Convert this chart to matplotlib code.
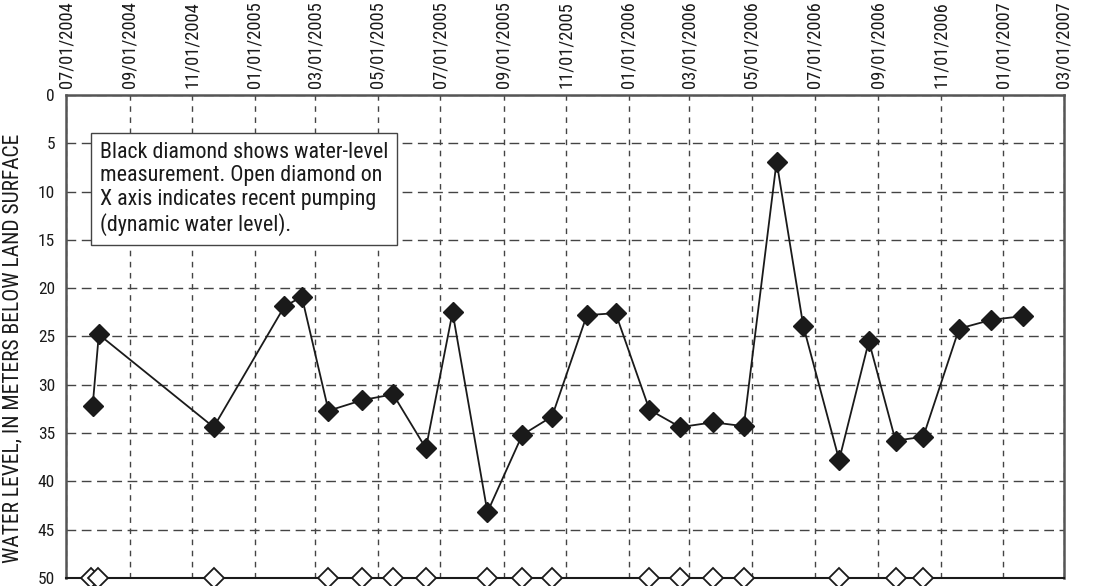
import datetime as dt
import matplotlib
matplotlib.use('Agg')
import matplotlib.pyplot as plt
import matplotlib.dates as mdates

plt.rcParams['font.family'] = ['Liberation Sans Narrow', 'Roboto Condensed', 'Liberation Sans', 'DejaVu Sans']

# water level measurements (meters below land surface)
meas_dates = ['2004-07-27', '2004-08-02', '2004-11-22', '2005-01-30', '2005-02-16',
              '2005-03-14', '2005-04-16', '2005-05-16', '2005-06-17', '2005-07-13',
              '2005-08-16', '2005-09-19', '2005-10-18', '2005-11-21', '2005-12-19',
              '2006-01-21', '2006-02-20', '2006-03-24', '2006-04-23', '2006-05-25',
              '2006-06-20', '2006-07-25', '2006-08-23', '2006-09-18', '2006-10-15',
              '2006-11-19', '2006-12-20', '2007-01-20']
water_level = [32.2, 24.8, 34.4, 21.9, 20.9,
               32.7, 31.6, 31.0, 36.6, 22.5,
               43.2, 35.2, 33.3, 22.8, 22.6,
               32.6, 34.4, 33.9, 34.3, 6.9,
               23.9, 37.8, 25.5, 35.8, 35.4,
               24.2, 23.3, 22.9]

# dates with recent pumping (open diamonds on the x axis)
pump_dates = ['2004-07-25', '2004-08-01', '2004-11-22', '2005-03-14', '2005-04-16',
              '2005-05-16', '2005-06-17', '2005-08-16', '2005-09-19', '2005-10-18',
              '2006-01-21', '2006-02-20', '2006-03-24', '2006-04-23', '2006-07-25',
              '2006-09-18', '2006-10-15']
pump_level = 50

note = ("Black diamond shows water-level\n"
        "measurement. Open diamond on\n"
        "X axis indicates recent pumping\n"
        "(dynamic water level).")

def to_dates(lst):
    return [dt.datetime.strptime(s, '%Y-%m-%d') for s in lst]

fig = plt.figure(figsize=(11, 5.86), dpi=100)
ax = fig.add_axes([0.060, 0.014, 0.907, 0.824])

ax.plot(to_dates(meas_dates), water_level, color='#1a1a1a', lw=1.3,
        marker='D', markersize=10.5, markerfacecolor='#1a1a1a', markeredgecolor='#1a1a1a',
        zorder=3)
ax.plot(to_dates(pump_dates), [pump_level] * len(pump_dates), ls='none',
        marker='D', markersize=10, markerfacecolor='white', markeredgecolor='#1a1a1a',
        markeredgewidth=1.3, clip_on=False, zorder=4)

ax.set_xlim(dt.datetime(2004, 7, 1), dt.datetime(2007, 3, 1))
ax.set_ylim(50, 0)
ax.set_yticks(range(0, 51, 5))

ax.xaxis.tick_top()
ax.xaxis.set_major_locator(mdates.MonthLocator(bymonth=[1, 3, 5, 7, 9, 11]))
ax.xaxis.set_major_formatter(mdates.DateFormatter('%m/%d/%Y'))
ax.tick_params(axis='x', rotation=90, length=0, pad=5, labelsize=13.3, colors='#1a1a1a')
ax.tick_params(axis='y', length=0, pad=8, labelsize=12.5, colors='#1a1a1a')
for lab in ax.get_xticklabels():
    lab.set_horizontalalignment('center')

ax.xaxis.grid(True, ls=(0, (4, 4)), color='#444444', lw=1.0)
ax.yaxis.grid(True, ls=(0, (7, 4)), color='#444444', lw=1.0)
for side in ['top', 'left', 'right']:
    ax.spines[side].set_color('#555555')
    ax.spines[side].set_linewidth(1.8)
ax.spines['bottom'].set_color('#1a1a1a')
ax.spines['bottom'].set_linewidth(1.5)

ax.set_ylabel('WATER LEVEL, IN METERS BELOW LAND SURFACE', fontsize=15.5, color='#1a1a1a')
ax.yaxis.set_label_coords(-0.043, 0.476)

ax.text(0.034, 0.9035, note, transform=ax.transAxes, fontsize=15.8, va='top', ha='left',
        linespacing=1.17, color='#1a1a1a', zorder=5,
        bbox=dict(boxstyle='square,pad=0.4', facecolor='white', edgecolor='#444444', lw=1))

fig.savefig('out.png', dpi=100)
